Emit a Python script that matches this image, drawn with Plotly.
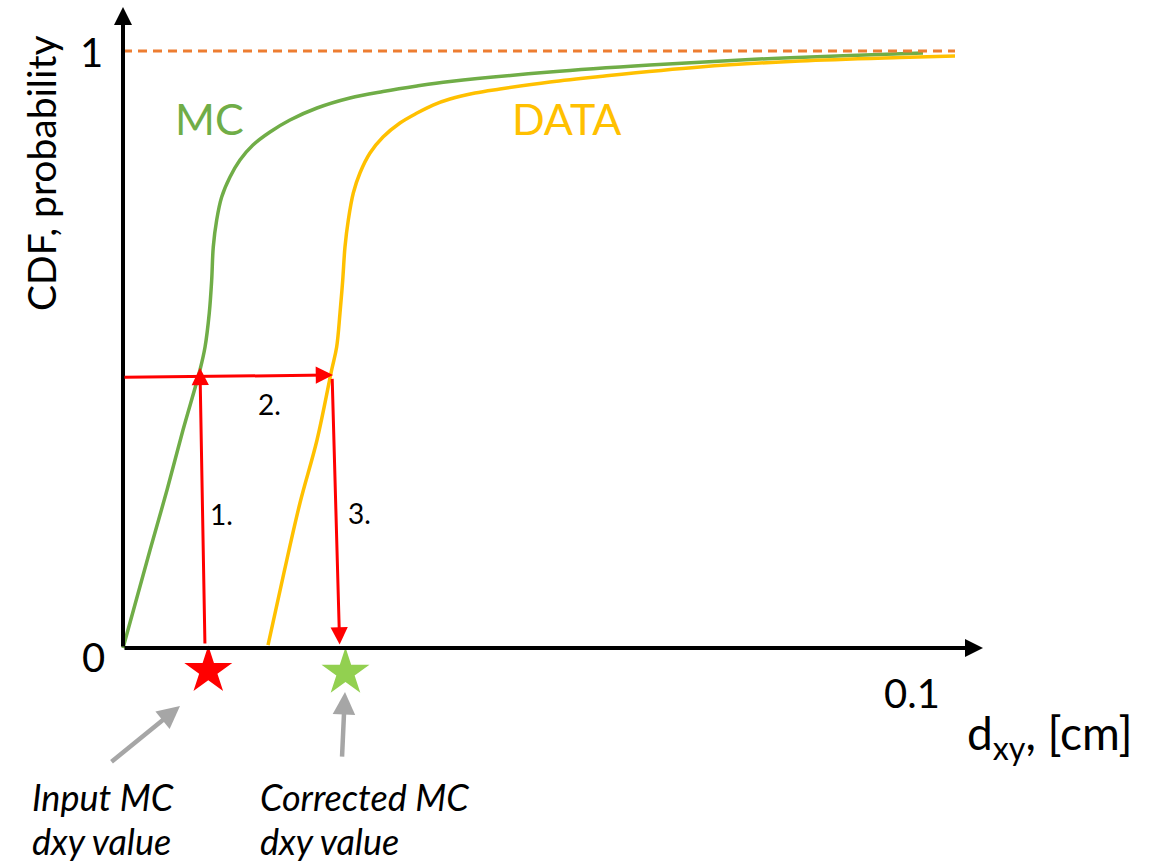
import plotly.graph_objects as go

# ---- data (x in cm, y = CDF probability) ----
mc_x = [0, 0.00325, 0.00529, 0.00721, 0.00925, 0.00986, 0.01037, 0.01066, 0.01085,
        0.01126, 0.01186, 0.01286, 0.01406, 0.01562, 0.01767, 0.02007, 0.02332,
        0.02728, 0.03125, 0.03534, 0.03930, 0.05132, 0.06334, 0.07536, 0.08738, 0.09615]
mc_y = [0, 0.1642, 0.2647, 0.3652, 0.4657, 0.5042, 0.5611, 0.6164, 0.6717,
        0.7169, 0.7554, 0.7889, 0.8174, 0.8425, 0.8643, 0.8844, 0.9045,
        0.9213, 0.9322, 0.9414, 0.9489, 0.9648, 0.9765, 0.9858, 0.9925, 0.9966]

data_x = [0.01743, 0.01923, 0.02127, 0.02332, 0.02508, 0.02568, 0.02608, 0.02641,
          0.02668, 0.02708, 0.02768, 0.02848, 0.02969, 0.03125, 0.03329, 0.03534,
          0.03726, 0.03930, 0.04231, 0.04531, 0.05132, 0.05733, 0.06935, 0.08137,
          0.09339, 0.1]
data_y = [0.0050, 0.1189, 0.2429, 0.3484, 0.4657, 0.5042, 0.5611, 0.6164,
          0.6717, 0.7169, 0.7621, 0.7956, 0.8291, 0.8559, 0.8794, 0.8961,
          0.9095, 0.9196, 0.9296, 0.9363, 0.9481, 0.9573, 0.9732, 0.9832,
          0.9891, 0.9916]

input_mc = 0.00925      # input MC dxy value
corrected_mc = 0.02524  # corrected MC dxy value
cdf_level = 0.4573      # CDF value at input MC
x_max_label = 0.1

GREEN = "#70AD47"
YELLOW = "#FFC000"
RED = "#FF0000"
ORANGE = "#ED7D31"
LIGHTGREEN = "#92D050"
GRAY = "#A6A6A6"
FONT = "Lato"

W, H = 1161, 866
# pixel mapping: origin at (123, 648), x=0.1 at px 955, y=1 at py 51
sx = 0.1 / 832
sy = 1 / 597
xr = [-123 * sx, (W - 123) * sx]
yr = [-(H - 648) * sy, 648 * sy]

fig = go.Figure()

fig.add_trace(go.Scatter(x=mc_x, y=mc_y, mode="lines",
                         line=dict(color=GREEN, width=3.5, shape="spline", smoothing=1.0),
                         hoverinfo="skip", showlegend=False))
fig.add_trace(go.Scatter(x=data_x, y=data_y, mode="lines",
                         line=dict(color=YELLOW, width=3.5, shape="spline", smoothing=1.0),
                         hoverinfo="skip", showlegend=False))

# dashed line at CDF = 1
fig.add_shape(type="line", x0=0, x1=x_max_label, y0=1, y1=1,
              line=dict(color=ORANGE, width=3, dash="9px,6px"))

# stars
star_y = -0.038
fig.add_trace(go.Scatter(x=[input_mc + 0.001], y=[star_y], mode="markers",
                         marker=dict(symbol="star", size=36, color=RED, line=dict(width=0)),
                         hoverinfo="skip", showlegend=False))
fig.add_trace(go.Scatter(x=[corrected_mc + 0.0015], y=[star_y - 0.003], mode="markers",
                         marker=dict(symbol="star", size=36, color=LIGHTGREEN, line=dict(width=0)),
                         hoverinfo="skip", showlegend=False))

def arrow(x0, y0, x1, y1, color, width, size):
    fig.add_annotation(x=x1, y=y1, ax=x0, ay=y0, xref="x", yref="y", axref="x", ayref="y",
                       text="", showarrow=True, arrowhead=2, arrowsize=size, arrowwidth=width,
                       arrowcolor=color, standoff=0, startstandoff=0)

# axes with arrows
arrow(0, 0, 0, 641 * sy, "black", 4, 0.9)
arrow(0, 0, (983 - 123) * sx, 0, "black", 4, 0.9)

# red steps
arrow(input_mc + 0.0006, 0.005, input_mc, cdf_level + 0.012, RED, 3, 1.15)
arrow(0, cdf_level - 0.004, corrected_mc, cdf_level, RED, 3, 1.15)
arrow(corrected_mc - 0.0001, cdf_level - 0.004, corrected_mc + 0.0008, 0.006, RED, 3, 1.15)

# gray pointer arrows
arrow(-0.00156, -0.1926, 0.00685, -0.0972, GRAY, 4.5, 1.0)
arrow(0.02632, -0.1843, 0.02668, -0.0737, GRAY, 4.5, 1.0)

def text(x, y, s, size, color="black", xanchor="center", italic=False, angle=0):
    fig.add_annotation(x=x, y=y, xref="x", yref="y", text=s, showarrow=False,
                       xanchor=xanchor, yanchor="middle", textangle=angle,
                       font=dict(family=FONT, size=size, color=color,
                                 style="italic" if italic else "normal"))

text(-32 * sx, 1.0 - 0.002, "1", 40)
text(-30 * sx, -0.015, "0", 40)
text((912 - 123) * sx, -(693 - 648) * sy, "0.1", 40)
text((965 - 123) * sx, -(736 - 648) * sy, "d<sub>xy</sub>, [cm]", 46, xanchor="left")
text(-82 * sx, (648 - 173) * sy, "CDF, probability", 39, angle=-90)

text((209 - 123) * sx, (648 - 118) * sy, "MC", 43, color=GREEN)
text((566 - 123) * sx, (648 - 118) * sy, "DATA", 43, color=YELLOW)

text((221 - 123) * sx, (648 - 514) * sy, "1.", 28)
text((269 - 123) * sx, (648 - 404) * sy, "2.", 28)
text((359 - 123) * sx, (648 - 513) * sy, "3.", 28)

text((30 - 123) * sx, -(797 - 648) * sy, "Input MC", 36, xanchor="left", italic=True)
text((30 - 123) * sx, -(841 - 648) * sy, "dxy value", 36, xanchor="left", italic=True)
text((258 - 123) * sx, -(797 - 648) * sy, "Corrected MC", 36, xanchor="left", italic=True)
text((258 - 123) * sx, -(841 - 648) * sy, "dxy value", 36, xanchor="left", italic=True)

fig.update_layout(
    width=W, height=H, margin=dict(l=0, r=0, t=0, b=0),
    paper_bgcolor="white", plot_bgcolor="white",
    xaxis=dict(range=xr, visible=False, fixedrange=True),
    yaxis=dict(range=yr, visible=False, fixedrange=True),
    showlegend=False,
)

fig.write_html("out.html")
